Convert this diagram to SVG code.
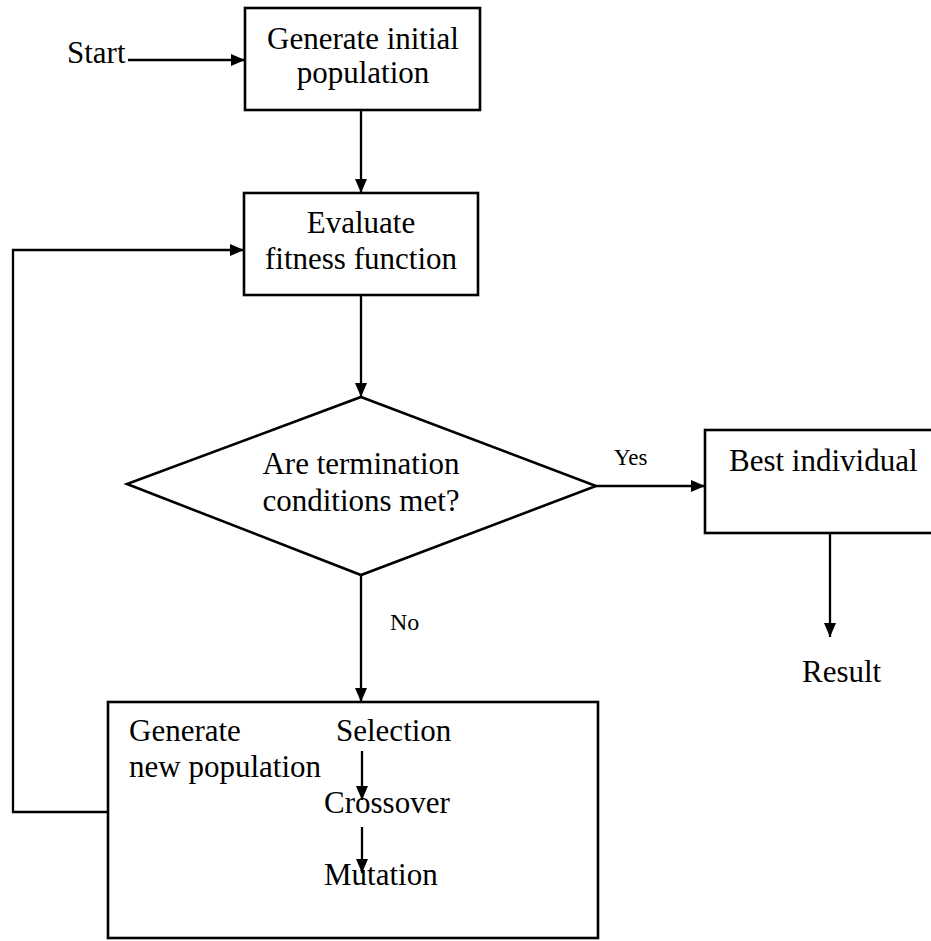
<svg xmlns="http://www.w3.org/2000/svg" width="931" height="941" viewBox="0 0 931 941">
<style>
.box{fill:#fff;stroke:#000;stroke-width:2.6}
.ln{fill:none;stroke:#000;stroke-width:2.3}
.t{font-family:"Liberation Serif","Times New Roman",serif;font-size:31px;fill:#000}
.s{font-family:"Liberation Serif","Times New Roman",serif;font-size:23px;fill:#000}
.m{text-anchor:middle}
</style>
<defs>
<marker id="ah" viewBox="0 0 14 12" refX="14" refY="6" markerWidth="14" markerHeight="12" markerUnits="userSpaceOnUse" orient="auto">
<path d="M0,0 L14,6 L0,12 Z" fill="#000"/>
</marker>
</defs>
<rect width="931" height="941" fill="#fff"/>
<g id="start"><text class="t" x="67" y="63">Start</text></g>
<g id="init">
<rect class="box" x="245" y="8" width="235" height="102"/>
<text class="t m" x="363" y="49">Generate initial</text>
<text class="t m" x="363" y="83">population</text>
</g>
<g id="evaluate">
<rect class="box" x="244" y="193" width="234" height="102"/>
<text class="t m" x="361" y="233">Evaluate</text>
<text class="t m" x="361" y="269">fitness function</text>
</g>
<g id="decision">
<polygon class="box" points="361,397 596,486 361,575 127,484"/>
<text class="t m" x="361" y="474">Are termination</text>
<text class="t m" x="361" y="511">conditions met?</text>
</g>
<g id="best">
<rect class="box" x="705" y="430" width="240" height="103"/>
<text class="t" x="729" y="471">Best individual</text>
</g>
<g id="result"><text class="t" x="802" y="682">Result</text></g>
<g id="newpop">
<rect class="box" x="108" y="702" width="490" height="236"/>
<text class="t" x="129" y="741">Generate</text>
<text class="t" x="129" y="777">new population</text>
<text class="t" x="336" y="741">Selection</text>
<text class="t" x="324" y="813">Crossover</text>
<text class="t" x="324" y="885">Mutation</text>
</g>
<g id="connectors">
<line class="ln" x1="128" y1="60" x2="245" y2="60" marker-end="url(#ah)"/>
<line class="ln" x1="361" y1="110" x2="361" y2="193" marker-end="url(#ah)"/>
<line class="ln" x1="361" y1="295" x2="361" y2="397" marker-end="url(#ah)"/>
<line class="ln" x1="596" y1="486" x2="705" y2="486" marker-end="url(#ah)"/>
<line class="ln" x1="361" y1="575" x2="361" y2="702" marker-end="url(#ah)"/>
<line class="ln" x1="830" y1="533" x2="830" y2="637" marker-end="url(#ah)"/>
<polyline class="ln" points="108,812 13,812 13,250 244,250" marker-end="url(#ah)"/>
<line class="ln" x1="362" y1="751" x2="362" y2="800" marker-end="url(#ah)"/>
<line class="ln" x1="362" y1="827" x2="362" y2="873" marker-end="url(#ah)"/>
<text class="s" x="614" y="465">Yes</text>
<text class="t" x="390" y="630" style="font-size:24px">No</text>
</g>
</svg>
